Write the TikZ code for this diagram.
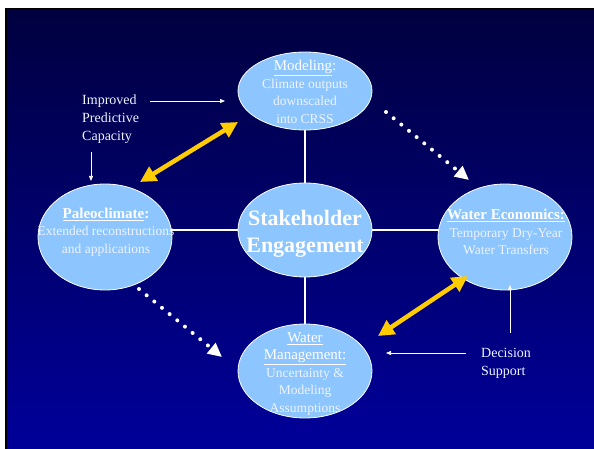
\documentclass[tikz,border=0pt]{standalone}
\usepackage{fontspec}
\setmainfont{Liberation Serif}
\usetikzlibrary{shapes.geometric,arrows.meta}
\pgfdeclarelayer{bg}\pgfdeclarelayer{mid}\pgfsetlayers{bg,mid,main}
\definecolor{bubblefill}{HTML}{8DC5FF}
\definecolor{bgtop}{HTML}{000040}
\definecolor{bgbot}{HTML}{00009A}
\definecolor{gold}{HTML}{FFCC00}
\definecolor{bodytext}{HTML}{EEF4FF}
\begin{document}
\begin{tikzpicture}[x=1pt,y=-1pt,
  bubble/.style={ellipse, draw=white, line width=0.8pt, fill=bubblefill, inner sep=0pt, minimum width=134pt},
  bodytxt/.style={text=bodytext, align=center, inner sep=0pt, font=\fontsize{13.5}{17.5}\selectfont},
  sidetxt/.style={text=bodytext, align=left, inner sep=0pt, anchor=west, font=\fontsize{14}{18}\selectfont},
  link/.style={white, line width=1.2pt},
  thinarrow/.style={white, line width=0.7pt, -{Triangle[length=5pt,width=4pt]}},
  goldarrow/.style={gold, line width=4.5pt, {Triangle[length=16pt,width=16pt]}-{Triangle[length=16pt,width=16pt]}},
  dotarrow/.style={white, line width=4pt, line cap=round, dash pattern=on 0pt off 9.9pt, -{Triangle[length=14pt,width=13pt]}}
]
\useasboundingbox (0,0) rectangle (594,449);
\begin{pgfonlayer}{bg}
  \fill[black] (5,8) rectangle (594,449);
  \fill[top color=bgtop, bottom color=bgbot] (7,10) rectangle (594,449);
\end{pgfonlayer}

% ellipses
\node[bubble, minimum height=78pt]  (model)  at (305,91)  {};
\node[bubble, minimum height=94pt]  (stake)  at (305,230) {};
\node[bubble, minimum height=106pt] (paleo)  at (105,237) {};
\node[bubble, minimum height=106pt] (econ)   at (505,237) {};
\node[bubble, minimum height=94pt]  (manage) at (305,371) {};

% connecting lines behind ellipses
\begin{pgfonlayer}{mid}
  \draw[link] (model.center) -- (manage.center);
  \draw[link] (paleo.center |- stake.center) -- (econ.center |- stake.center);
\end{pgfonlayer}

% texts
\node[bodytxt] (modeltxt) at (305,92) {{\fontsize{15}{17.5}\selectfont\color{white}\underline{Modeling}:}\\Climate outputs\\downscaled\\into CRSS};
\node[text=white, align=center, inner sep=0pt, font=\bfseries\fontsize{22}{27}\selectfont] (staketxt) at (305,234) {Stakeholder\\Engagement};
\node[bodytxt] (paleotxt) at (106,232) {{\fontsize{15}{18}\selectfont\bfseries\color{white}\underline{Paleoclimate}:}\\Extended reconstructions\\and applications};
\node[bodytxt] (econtxt) at (506,232) {{\fontsize{15}{18}\selectfont\bfseries\color{white}\underline{Water Economics:}}\\Temporary Dry-Year\\Water Transfers};
\node[bodytxt] (managetxt) at (305,374) {{\fontsize{15}{17.5}\selectfont\color{white}\underline{Water}}\\{\fontsize{15}{17.5}\selectfont\color{white}\underline{Management:}}\\Uncertainty \&\\Modeling\\Assumptions};
\node[sidetxt] (improved) at (82,119) {Improved\\Predictive\\Capacity};
\node[sidetxt] (decision) at (481,363) {Decision\\Support};

% free ends of connectors
\coordinate (impR1) at (150,101);
\coordinate (impR2) at (225,101);
\coordinate (impD1) at (91,152);
\coordinate (impD2) at (91,181);
\coordinate (decL1) at (466,353);
\coordinate (decL2) at (386,353);
\coordinate (decU1) at (510,333);
\coordinate (decU2) at (510,285);
\coordinate (ga1) at (140,182);
\coordinate (gb1) at (238,122);
\coordinate (ga2) at (378,336);
\coordinate (gb2) at (468,276);
\coordinate (da1) at (386,112);
\coordinate (db1) at (469,180);
\coordinate (da2) at (139,289);
\coordinate (db2) at (222,357);

\draw[thinarrow] (impR1) -- (impR2);
\draw[thinarrow] (impD1) -- (impD2);
\draw[thinarrow] (decL1) -- (decL2);
\draw[thinarrow] (decU1) -- (decU2);
\draw[goldarrow] (ga1) -- (gb1);
\draw[goldarrow] (ga2) -- (gb2);
\draw[dotarrow] (da1) -- (db1);
\draw[dotarrow] (da2) -- (db2);
\end{tikzpicture}
\end{document}
